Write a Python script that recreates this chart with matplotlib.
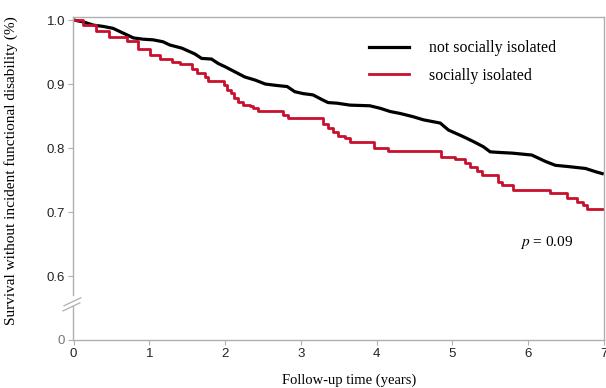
import matplotlib
matplotlib.use('Agg')
import matplotlib.pyplot as plt

# Kaplan-Meier curves
t_not_isolated = [0, 0.13, 0.26, 0.39, 0.52, 0.61, 0.70, 0.79, 0.92, 1.05, 1.18, 1.27,
                  1.43, 1.60, 1.69, 1.82, 1.91, 2.00, 2.13, 2.26, 2.40, 2.53, 2.66, 2.82,
                  2.92, 3.03, 3.16, 3.29, 3.36, 3.48, 3.65, 3.91, 4.05, 4.18, 4.31, 4.48,
                  4.62, 4.84, 4.95, 5.14, 5.28, 5.41, 5.50, 5.63, 5.79, 6.05, 6.23, 6.36,
                  6.53, 6.76, 6.89, 6.98]
s_not_isolated = [1.0, 0.997, 0.992, 0.990, 0.987, 0.982, 0.977, 0.972, 0.970, 0.969, 0.966, 0.961,
                  0.956, 0.947, 0.940, 0.939, 0.932, 0.927, 0.919, 0.911, 0.906, 0.900, 0.898, 0.896,
                  0.888, 0.885, 0.883, 0.875, 0.871, 0.870, 0.867, 0.866, 0.862, 0.857, 0.854, 0.849,
                  0.844, 0.839, 0.828, 0.818, 0.810, 0.802, 0.794, 0.793, 0.792, 0.789, 0.779, 0.773,
                  0.771, 0.768, 0.763, 0.760]

t_isolated = [0, 0.12, 0.30, 0.47, 0.70, 0.85, 1.01, 1.14, 1.30, 1.41, 1.56, 1.63, 1.73, 1.78,
              1.98, 2.03, 2.08, 2.12, 2.17, 2.23, 2.33, 2.37, 2.44, 2.77, 2.83, 3.29, 3.36,
              3.42, 3.49, 3.58, 3.65, 3.97, 4.15, 4.85, 5.04, 5.17, 5.24, 5.33, 5.39, 5.60,
              5.66, 5.80, 6.29, 6.52, 6.65, 6.73, 6.78, 7.0]
s_isolated = [1.0, 0.992, 0.983, 0.974, 0.967, 0.955, 0.945, 0.939, 0.935, 0.931, 0.923, 0.917,
              0.911, 0.905, 0.898, 0.891, 0.886, 0.878, 0.872, 0.867, 0.865, 0.862, 0.858, 0.852,
              0.847, 0.838, 0.831, 0.825, 0.819, 0.816, 0.810, 0.800, 0.795, 0.786, 0.783, 0.777,
              0.771, 0.764, 0.758, 0.747, 0.742, 0.734, 0.730, 0.722, 0.716, 0.711, 0.705, 0.705]

x_ticks = [0, 1, 2, 3, 4, 5, 6, 7]
y_ticks = [0.5, 0.6, 0.7, 0.8, 0.9, 1.0]
y_tick_labels = ['0', '0.6', '0.7', '0.8', '0.9', '1.0']

plt.rcParams['mathtext.fontset'] = 'stix'
serif = 'Liberation Serif'
sans = 'Liberation Sans'
grey = '#b0b0b0'

fig = plt.figure(figsize=(6.06, 3.88), dpi=100)
ax = fig.add_axes([73 / 606, 1 - 340 / 388, 531 / 606, 323 / 388])

ax.plot(t_not_isolated, s_not_isolated, color='black', lw=2.3,
        label='not socially isolated', solid_joinstyle='miter')
ax.step(t_isolated, s_isolated, where='post', color='#c8102e', lw=2.0,
        label='socially isolated')

ax.set_xlim(-0.008, 7.003)
ax.set_ylim(0.5, 1.0047)
ax.set_xticks(x_ticks)
ax.set_yticks(y_ticks)
ax.set_yticklabels(y_tick_labels)

for side in ['top', 'right', 'bottom', 'left']:
    ax.spines[side].set_color(grey)
    ax.spines[side].set_linewidth(1.0)
ax.spines['left'].set_bounds(0.57, 1.0047)
# lower piece of the broken y axis and the break marks
ax.plot([0, 0], [0, 0.105], color=grey, lw=1.0, transform=ax.transAxes, clip_on=False)
ax.plot([-0.019, 0.013], [0.090, 0.115], color=grey, lw=0.9, transform=ax.transAxes, clip_on=False)
ax.plot([-0.017, 0.015], [0.106, 0.131], color=grey, lw=0.9, transform=ax.transAxes, clip_on=False)

ax.tick_params(axis='both', direction='out', length=3.5, width=0.8, color=grey,
               labelsize=9.5, labelcolor='#222222', pad=2)
for lab in ax.get_xticklabels() + ax.get_yticklabels():
    lab.set_fontfamily(sans)
ax.get_yticklabels()[0].set_color('#777777')

ax.set_ylabel('Survival without incident functional disability (%)', fontfamily=serif,
              fontsize=11, labelpad=10)
ax.yaxis.set_label_coords(-0.103, 0.523)
fig.text(349 / 606, 1 - 380 / 388, 'Follow-up time (years)', fontfamily=serif,
         fontsize=10.5, ha='center', va='center')

ax.legend(loc='upper left', bbox_to_anchor=(0.546, 0.947), frameon=False,
          prop={'family': serif, 'size': 11.4}, handlelength=2.5, handletextpad=1.27,
          labelspacing=0.72, borderaxespad=0)

ax.text(5.9, 0.653, r'$p$ = 0.09', fontfamily=serif, fontsize=11, ha='left', va='center')

fig.savefig('out.png', dpi=100)
